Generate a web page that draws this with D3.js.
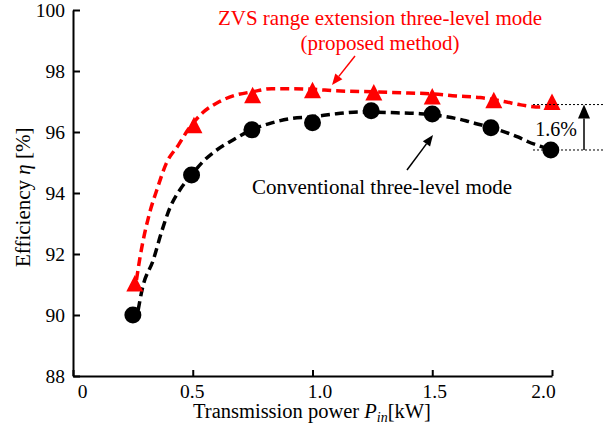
<!DOCTYPE html>
<html>
<head>
<meta charset="utf-8">
<script src="https://cdn.jsdelivr.net/npm/d3@7"></script>
<style>
  html, body { margin: 0; padding: 0; background: #fff; }
  svg { display: block; }
</style>
</head>
<body>
<svg id="chart" width="606" height="432"></svg>
<script>
// ---------- data ----------
const xTicks = [0, 0.5, 1.0, 1.5, 2.0];
const xTickLabels = ["0", "0.5", "1.0", "1.5", "2.0"];
const yTicks = [88, 90, 92, 94, 96, 98, 100];
const yTickLabels = ["88", "90", "92", "94", "96", "98", "100"];

// measured points: proposed method (red triangles)
const proposedX = [0.258, 0.505, 0.75, 1.0, 1.256, 1.5, 1.757, 2.0];
const proposedY = [90.95, 96.14, 97.12, 97.29, 97.21, 97.08, 96.96, 96.90];
// measured points: conventional (black circles)
const conventionalX = [0.25, 0.495, 0.747, 1.0, 1.245, 1.5, 1.745, 1.995];
const conventionalY = [90.0, 94.59, 96.07, 96.30, 96.70, 96.59, 96.14, 95.41];

// fitted dashed curves
const proposedFitX = [0.265, 0.28, 0.32, 0.35, 0.39, 0.44, 0.48, 0.54, 0.61, 0.68, 0.75, 0.83, 0.92, 1.0, 1.1, 1.25, 1.4, 1.5, 1.6, 1.7, 1.8, 1.87, 1.95, 2.0];
const proposedFitY = [91.15, 91.9, 93.35, 94.1, 94.98, 95.57, 96.07, 96.62, 96.99, 97.21, 97.32, 97.42, 97.42, 97.4, 97.35, 97.32, 97.28, 97.25, 97.18, 97.13, 97.0, 96.89, 96.82, 96.82];
const conventionalFitX = [0.272, 0.29, 0.335, 0.37, 0.404, 0.446, 0.495, 0.543, 0.6, 0.668, 0.745, 0.83, 0.9, 1.0, 1.1, 1.2, 1.35, 1.45, 1.56, 1.64, 1.68, 1.75, 1.81, 1.86, 1.9, 1.95, 1.99];
const conventionalFitY = [90.16, 90.88, 91.8, 92.73, 93.5, 94.1, 94.59, 95.03, 95.41, 95.74, 96.07, 96.3, 96.43, 96.5, 96.6, 96.66, 96.63, 96.6, 96.5, 96.37, 96.28, 96.14, 95.98, 95.83, 95.68, 95.54, 95.42];

// annotation values
const gapTop = 96.9, gapBottom = 95.41;
const gapLabel = "1.6%";

// ---------- layout ----------
const FONT = "Liberation Serif";
const svg = d3.select("#chart");
const x = d3.scaleLinear().domain([0, 2]).range([73, 552]);
const y = d3.scaleLinear().domain([88, 100]).range([376, 10]);
const RED = "#ff0000";

// curves
const line = d3.line().x(d => x(d[0])).y(d => y(d[1])).curve(d3.curveMonotoneX);
svg.append("path")
  .attr("d", line(d3.zip(proposedFitX, proposedFitY)))
  .attr("fill", "none").attr("stroke", RED).attr("stroke-width", 3.5)
  .attr("stroke-dasharray", "9,5");
svg.append("path")
  .attr("d", line(d3.zip(conventionalFitX, conventionalFitY)))
  .attr("fill", "none").attr("stroke", "#000").attr("stroke-width", 3.5)
  .attr("stroke-dasharray", "9,5");

// markers
const triW = 17, triH = 16.5;
const triPath = `M0,${-2 * triH / 3}L${triW / 2},${triH / 3}L${-triW / 2},${triH / 3}Z`;
svg.append("g").selectAll("path")
  .data(d3.zip(proposedX, proposedY)).join("path")
  .attr("d", triPath)
  .attr("transform", d => `translate(${x(d[0])},${y(d[1])})`)
  .attr("fill", RED);
svg.append("g").selectAll("circle")
  .data(d3.zip(conventionalX, conventionalY)).join("circle")
  .attr("cx", d => x(d[0])).attr("cy", d => y(d[1])).attr("r", 8.5)
  .attr("fill", "#000");

// axes
const yAxis = d3.axisLeft(y).tickValues(yTicks)
  .tickFormat((d, i) => yTickLabels[i]).tickSizeInner(-7).tickSizeOuter(0).tickPadding(8);
const gy = svg.append("g").attr("transform", `translate(${x(0)},0)`).call(yAxis);
const xAxis = d3.axisBottom(x).tickValues(xTicks)
  .tickFormat((d, i) => xTickLabels[i]).tickSizeInner(-6).tickSizeOuter(0).tickPadding(8);
const gx = svg.append("g").attr("transform", `translate(0,${y(88)})`).call(xAxis);
[gx, gy].forEach(g => {
  g.attr("font-family", FONT).attr("font-size", 19.5);
  g.select(".domain").attr("stroke", "#000").attr("stroke-width", 2);
  g.selectAll(".tick line").attr("stroke", "#000").attr("stroke-width", 2);
  g.selectAll(".tick text").attr("fill", "#000")
    .attr("font-family", FONT).attr("font-size", 19.5);
});
const xLabelNudge = [9, -1, 7, 2, -9];
gx.selectAll(".tick text").attr("dx", (d, i) => xLabelNudge[i]);

// axis titles
const xt = svg.append("text").attr("x", 312).attr("y", 418)
  .attr("text-anchor", "middle").attr("font-family", FONT).attr("font-size", 20.5).attr("fill", "#000");
xt.append("tspan").text("Transmission power ");
xt.append("tspan").text("P").attr("font-style", "italic");
xt.append("tspan").text("in").attr("font-style", "italic").attr("font-size", 14).attr("dy", 4);
xt.append("tspan").text("[kW]").attr("dy", -4);

const yt = svg.append("text").attr("transform", "translate(30,267) rotate(-90)")
  .attr("text-anchor", "start").attr("font-family", FONT).attr("font-size", 21).attr("fill", "#000")
  .attr("xml:space", "preserve");
yt.append("tspan").text("Efficiency ");
yt.append("tspan").text("η").attr("font-style", "italic");
yt.append("tspan").text(" [%]");

// red annotation
svg.append("text").attr("x", 380).attr("y", 25).attr("text-anchor", "middle")
  .attr("font-family", FONT).attr("font-size", 21).attr("fill", RED).text("ZVS range extension three-level mode");
svg.append("text").attr("x", 380).attr("y", 50).attr("text-anchor", "middle")
  .attr("font-family", FONT).attr("font-size", 21).attr("fill", RED).text("(proposed method)");

// black annotation
svg.append("text").attr("x", 382).attr("y", 194).attr("text-anchor", "middle")
  .attr("font-family", FONT).attr("font-size", 21).attr("fill", "#000").text("Conventional three-level mode");

// arrows
function arrow(x1, y1, x2, y2, color, headLen, headW, lw) {
  const ang = Math.atan2(y2 - y1, x2 - x1);
  const bx = x2 - headLen * Math.cos(ang), by = y2 - headLen * Math.sin(ang);
  svg.append("line").attr("x1", x1).attr("y1", y1).attr("x2", bx).attr("y2", by)
    .attr("stroke", color).attr("stroke-width", lw);
  const px = -Math.sin(ang) * headW / 2, py = Math.cos(ang) * headW / 2;
  svg.append("path")
    .attr("d", `M${x2},${y2}L${bx + px},${by + py}L${bx - px},${by - py}Z`)
    .attr("fill", color);
}
arrow(355, 56, 332, 85, RED, 11, 9, 1.5);
arrow(407, 170, 433, 135, "#000", 11, 9, 1.5);

// 1.6% gap marker
[gapTop, gapBottom].forEach(v => {
  svg.append("line").attr("x1", 533).attr("x2", 604).attr("y1", y(v)).attr("y2", y(v))
    .attr("stroke", "#000").attr("stroke-width", 1).attr("stroke-dasharray", "2,2");
});
arrow(584, y(gapBottom), 584, y(gapTop), "#000", 14, 12, 1.5);
svg.append("text").attr("x", 577).attr("y", 136).attr("text-anchor", "end")
  .attr("font-family", FONT).attr("font-size", 20).attr("fill", "#000").text(gapLabel);
</script>
</body>
</html>
